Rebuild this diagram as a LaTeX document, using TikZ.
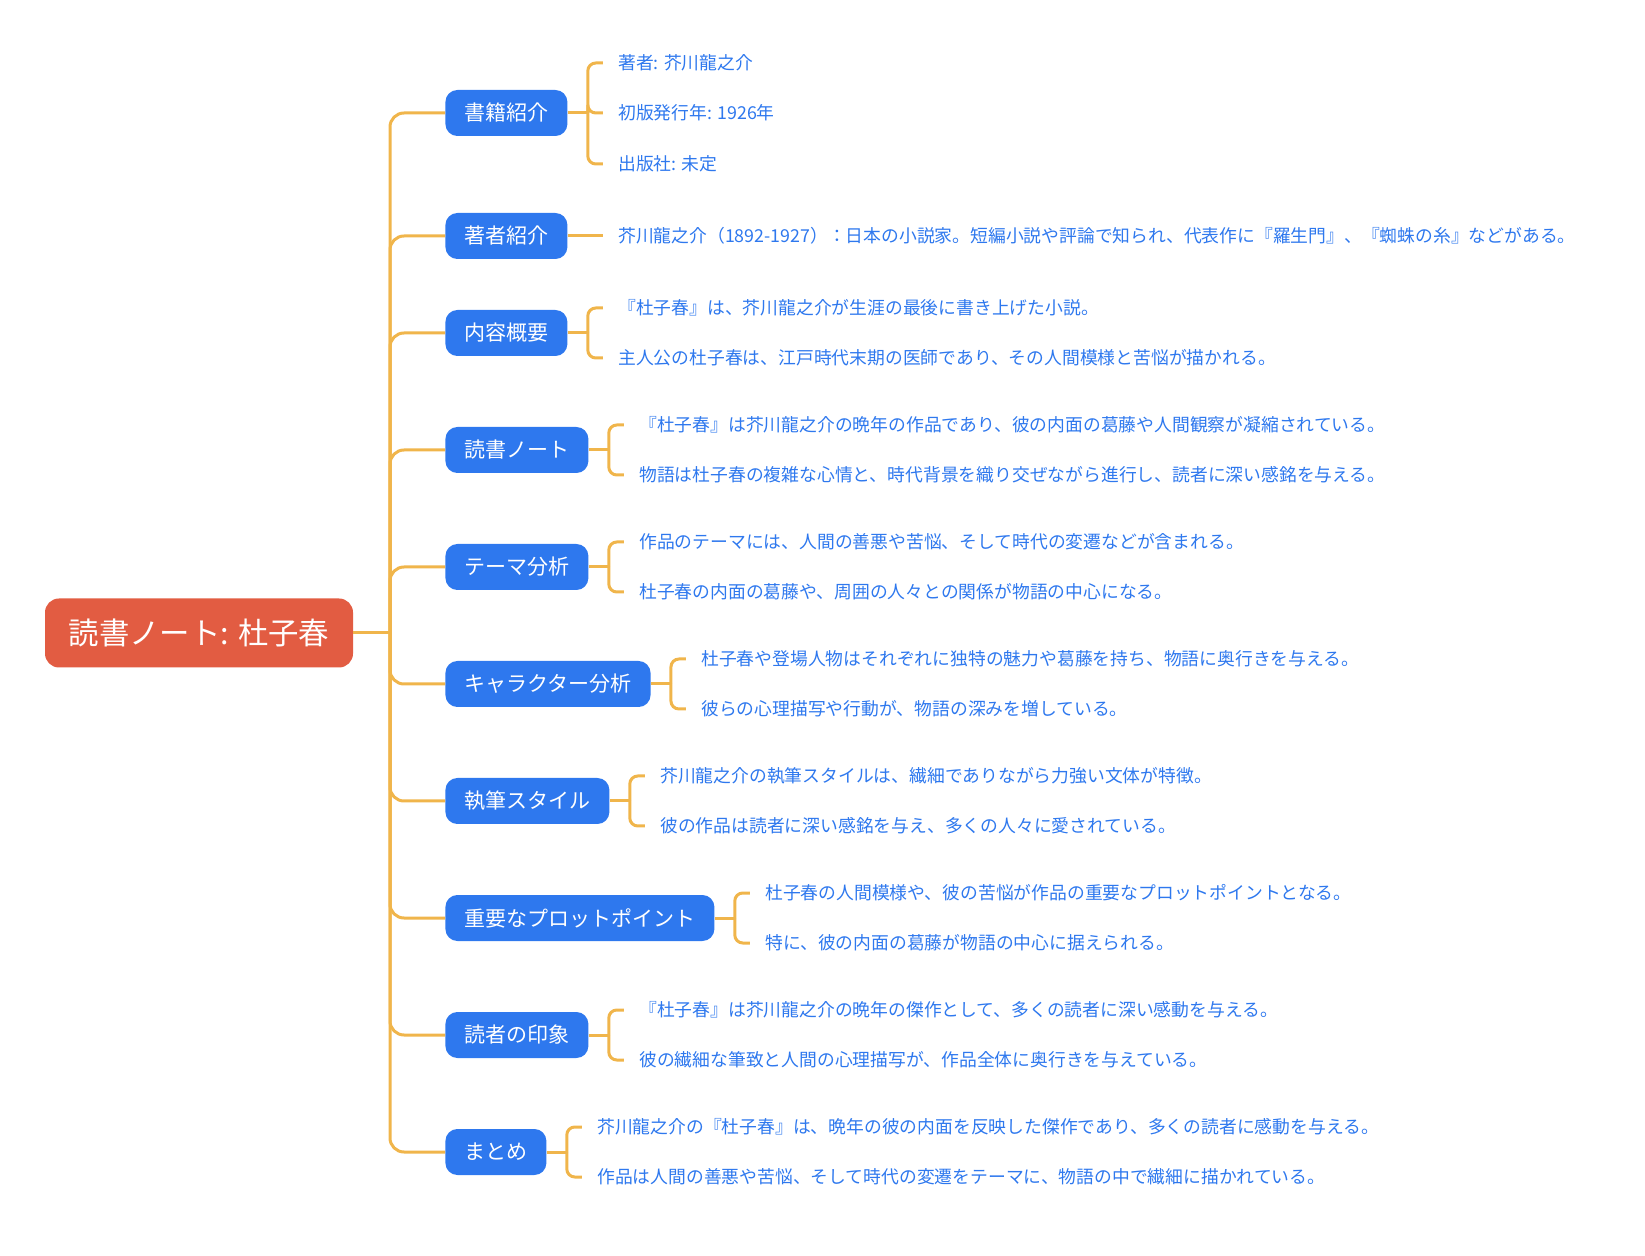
\documentclass[tikz,border=0pt]{standalone}
\usepackage{fontspec}
\setmainfont{Noto Sans CJK JP}
\usetikzlibrary{calc}
\definecolor{rootred}{HTML}{E25C42}
\definecolor{nodeblue}{HTML}{2E78EE}
\definecolor{linkorange}{HTML}{F0B54B}

\begin{document}
\begin{tikzpicture}[x=0.5pt, y=-0.5pt,
	rootbox/.style={fill=rootred, text=white, rounded corners=7pt, minimum width=154pt, minimum height=34.5pt, font=\fontsize{15.2pt}{17pt}\selectfont},
	branchbox/.style={fill=nodeblue, text=white, rounded corners=6pt, inner xsep=9.5pt, minimum height=23pt, anchor=west, font=\fontsize{10.5pt}{12pt}\selectfont},
	leaf/.style={text=nodeblue, anchor=west, inner xsep=7.5pt, font=\fontsize{8.9pt}{10pt}\selectfont},
	link/.style={draw=linkorange, line width=1.5pt, rounded corners=7pt},
	bracket/.style={draw=linkorange, line width=1.5pt, rounded corners=4pt}]
			\useasboundingbox (0,0) rectangle (1645,1256);
			
			% root and trunk
			\node[rootbox] (root) at (199,633) {読書ノート: 杜子春};
			\coordinate (hub) at (390,633);
			
			% branches
			\node[branchbox] (b1) at (445,113) {書籍紹介};
			\node[branchbox] (b2) at (445,236) {著者紹介};
			\node[branchbox] (b3) at (445,333) {内容概要};
			\node[branchbox] (b4) at (445,450) {読書ノート};
			\node[branchbox] (b5) at (445,567) {テーマ分析};
			\node[branchbox] (b6) at (445,684) {キャラクター分析};
			\node[branchbox] (b7) at (445,801) {執筆スタイル};
			\node[branchbox] (b8) at (445,918) {重要なプロットポイント};
			\node[branchbox] (b9) at (445,1035) {読者の印象};
			\node[branchbox] (b10) at (445,1152) {まとめ};
			
			\draw[link] (root.east) -- (hub);
			\draw[link] (hub) |- (b1.west);
			\draw[link] (hub) |- (b2.west);
			\draw[link] (hub) |- (b3.west);
			\draw[link] (hub) |- (b4.west);
			\draw[link] (hub) |- (b5.west);
			\draw[link] (hub) |- (b6.west);
			\draw[link] (hub) |- (b7.west);
			\draw[link] (hub) |- (b8.west);
			\draw[link] (hub) |- (b9.west);
			\draw[link] (hub) |- (b10.west);
			
			% 書籍紹介
			\coordinate (k1) at ($(b1.east)+(20,0)$);
			\node[leaf] (l1a) at ($(b1.east)+(35,-50)$) {著者: 芥川龍之介};
			\node[leaf] (l1b) at ($(b1.east)+(35,0)$) {初版発行年: 1926年};
			\node[leaf] (l1c) at ($(b1.east)+(35,51)$) {出版社: 未定};
			\draw[bracket] (b1.east) -- (k1);
			\draw[bracket] (k1) |- (l1a.west);
			\draw[bracket] (k1) |- (l1b.west);
			\draw[bracket] (k1) |- (l1c.west);
			
			% 著者紹介
			\node[leaf] (l2a) at ($(b2.east)+(35,0)$) {芥川龍之介（1892-1927）：日本の小説家。短編小説や評論で知られ、代表作に『羅生門』、『蜘蛛の糸』などがある。};
			\draw[bracket] (b2.east) -- (l2a.west);
			
			% 内容概要
			\coordinate (k3) at ($(b3.east)+(20,0)$);
			\node[leaf] (l3a) at ($(b3.east)+(35,-25)$) {『杜子春』は、芥川龍之介が生涯の最後に書き上げた小説。};
			\node[leaf] (l3b) at ($(b3.east)+(35,25)$) {主人公の杜子春は、江戸時代末期の医師であり、その人間模様と苦悩が描かれる。};
			\draw[bracket] (b3.east) -- (k3);
			\draw[bracket] (k3) |- (l3a.west);
			\draw[bracket] (k3) |- (l3b.west);
			
			% 読書ノート
			\coordinate (k4) at ($(b4.east)+(20,0)$);
			\node[leaf] (l4a) at ($(b4.east)+(35,-25)$) {『杜子春』は芥川龍之介の晩年の作品であり、彼の内面の葛藤や人間観察が凝縮されている。};
			\node[leaf] (l4b) at ($(b4.east)+(35,25)$) {物語は杜子春の複雑な心情と、時代背景を織り交ぜながら進行し、読者に深い感銘を与える。};
			\draw[bracket] (b4.east) -- (k4);
			\draw[bracket] (k4) |- (l4a.west);
			\draw[bracket] (k4) |- (l4b.west);
			
			% テーマ分析
			\coordinate (k5) at ($(b5.east)+(20,0)$);
			\node[leaf] (l5a) at ($(b5.east)+(35,-25)$) {作品のテーマには、人間の善悪や苦悩、そして時代の変遷などが含まれる。};
			\node[leaf] (l5b) at ($(b5.east)+(35,25)$) {杜子春の内面の葛藤や、周囲の人々との関係が物語の中心になる。};
			\draw[bracket] (b5.east) -- (k5);
			\draw[bracket] (k5) |- (l5a.west);
			\draw[bracket] (k5) |- (l5b.west);
			
			% キャラクター分析
			\coordinate (k6) at ($(b6.east)+(20,0)$);
			\node[leaf] (l6a) at ($(b6.east)+(35,-25)$) {杜子春や登場人物はそれぞれに独特の魅力や葛藤を持ち、物語に奥行きを与える。};
			\node[leaf] (l6b) at ($(b6.east)+(35,25)$) {彼らの心理描写や行動が、物語の深みを増している。};
			\draw[bracket] (b6.east) -- (k6);
			\draw[bracket] (k6) |- (l6a.west);
			\draw[bracket] (k6) |- (l6b.west);
			
			% 執筆スタイル
			\coordinate (k7) at ($(b7.east)+(20,0)$);
			\node[leaf] (l7a) at ($(b7.east)+(35,-25)$) {芥川龍之介の執筆スタイルは、繊細でありながら力強い文体が特徴。};
			\node[leaf] (l7b) at ($(b7.east)+(35,25)$) {彼の作品は読者に深い感銘を与え、多くの人々に愛されている。};
			\draw[bracket] (b7.east) -- (k7);
			\draw[bracket] (k7) |- (l7a.west);
			\draw[bracket] (k7) |- (l7b.west);
			
			% 重要なプロットポイント
			\coordinate (k8) at ($(b8.east)+(20,0)$);
			\node[leaf] (l8a) at ($(b8.east)+(35,-25)$) {杜子春の人間模様や、彼の苦悩が作品の重要なプロットポイントとなる。};
			\node[leaf] (l8b) at ($(b8.east)+(35,25)$) {特に、彼の内面の葛藤が物語の中心に据えられる。};
			\draw[bracket] (b8.east) -- (k8);
			\draw[bracket] (k8) |- (l8a.west);
			\draw[bracket] (k8) |- (l8b.west);
			
			% 読者の印象
			\coordinate (k9) at ($(b9.east)+(20,0)$);
			\node[leaf] (l9a) at ($(b9.east)+(35,-25)$) {『杜子春』は芥川龍之介の晩年の傑作として、多くの読者に深い感動を与える。};
			\node[leaf] (l9b) at ($(b9.east)+(35,25)$) {彼の繊細な筆致と人間の心理描写が、作品全体に奥行きを与えている。};
			\draw[bracket] (b9.east) -- (k9);
			\draw[bracket] (k9) |- (l9a.west);
			\draw[bracket] (k9) |- (l9b.west);
			
			% まとめ
			\coordinate (k10) at ($(b10.east)+(20,0)$);
			\node[leaf] (l10a) at ($(b10.east)+(35,-25)$) {芥川龍之介の『杜子春』は、晩年の彼の内面を反映した傑作であり、多くの読者に感動を与える。};
			\node[leaf] (l10b) at ($(b10.east)+(35,25)$) {作品は人間の善悪や苦悩、そして時代の変遷をテーマに、物語の中で繊細に描かれている。};
			\draw[bracket] (b10.east) -- (k10);
			\draw[bracket] (k10) |- (l10a.west);
			\draw[bracket] (k10) |- (l10b.west);
		\end{tikzpicture}
\end{document}
